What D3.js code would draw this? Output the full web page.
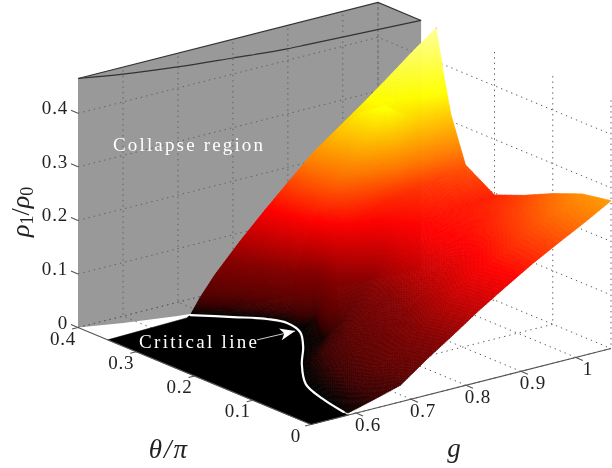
<!DOCTYPE html>
<html>
<head>
<meta charset="utf-8">
<script src="https://cdn.jsdelivr.net/npm/d3@7"></script>
<style>
  html, body { margin: 0; padding: 0; background: #fff; }
  svg { display: block; filter: blur(0.35px); }
  text { font-family: "Liberation Serif", serif; fill: #222; }
</style>
</head>
<body>
<div id="chart"></div>
<script>
const gTicks = [0.6, 0.7, 0.8, 0.9, 1];
const thetaTicks = [0, 0.1, 0.2, 0.3, 0.4];
const rhoTicks = [0, 0.1, 0.2, 0.3, 0.4];
const gRange = [0.518, 1.064];
const thetaRange = [0, 0.4];
const rhoRange = [0, 0.465];

// collapse boundary
const collapseG = [0.518, 0.581, 0.662, 0.749, 0.835, 0.867, 1.064];
const collapseTheta = [0.4, 0.382, 0.365, 0.352, 0.34, 0.338, 0.326];

// critical line on the floor
const criticalG = [0.679, 0.722, 0.755, 0.767, 0.757, 0.72, 0.672, 0.622, 0.601, 0.589];
const criticalTheta = [0.359, 0.326, 0.299, 0.276, 0.244, 0.204, 0.161, 0.107, 0.058, 0.011];

// black floor outline
const floorG = [0.518, 0.518, 0.667, 0.679, 0.722, 0.767, 0.76, 0.715, 0.66, 0.618, 0.598, 0.585];
const floorTheta = [0, 0.349, 0.354, 0.359, 0.326, 0.276, 0.25, 0.2, 0.15, 0.1, 0.05, 0];

// surface rows, front to back. each row runs from the critical line to the g edge
const rowStartG = [0.585, 0.598, 0.618, 0.66, 0.715, 0.76, 0.767, 0.722, 0.679];
const rowStartTheta = [0, 0.05, 0.1, 0.15, 0.2, 0.25, 0.276, 0.326, 0.359];
const rowEndTheta = [0, 0.05, 0.1, 0.15, 0.2, 0.25, 0.275, 0.288, 0.3];
const colFrac = [0, 0.04, 0.1, 0.2, 0.3, 0.4, 0.5, 0.6, 0.7, 0.8, 0.9, 1];
const rho = [
  [0.004, 0.009, 0.017, 0.031, 0.067, 0.1, 0.134, 0.165, 0.195, 0.222, 0.248, 0.276],
  [0, 0.006, 0.02, 0.045, 0.07, 0.103, 0.137, 0.17, 0.196, 0.22, 0.245, 0.266],
  [0, 0.004, 0.018, 0.04, 0.06, 0.09, 0.125, 0.155, 0.18, 0.205, 0.225, 0.244],
  [0, 0.006, 0.02, 0.04, 0.065, 0.09, 0.13, 0.168, 0.18, 0.19, 0.205, 0.218],
  [0, 0.002, 0.006, 0.03, 0.07, 0.115, 0.16, 0.178, 0.185, 0.19, 0.192, 0.196],
  [0, 0.002, 0.01, 0.15, 0.19, 0.195, 0.195, 0.2, 0.205, 0.21, 0.22, 0.23],
  [0, 0.06, 0.13, 0.2, 0.235, 0.265, 0.31, 0.36, 0.335, 0.315, 0.31, 0.313],
  [0, 0.05, 0.1, 0.16, 0.21, 0.25, 0.295, 0.335, 0.35, 0.355, 0.365, 0.385],
  [0, 0.03, 0.068, 0.122, 0.172, 0.22, 0.267, 0.305, 0.343, 0.383, 0.424, 0.463]
];

const width = 612, height = 468;
const originX = 311, originY = 424.5;

const gX = d3.scaleLinear().domain(gRange).range([0, 300]);
const gY = d3.scaleLinear().domain(gRange).range([0, -76]);
const thetaX = d3.scaleLinear().domain(thetaRange).range([0, -233]);
const thetaY = d3.scaleLinear().domain(thetaRange).range([0, -97]);
const rhoY = d3.scaleLinear().domain(rhoRange).range([0, -249]);

function proj(g, t, z) {
  return [originX + gX(g) + thetaX(t), originY + gY(g) + thetaY(t) + rhoY(z)];
}

// hot colormap, brightened a bit at the dark end like the picture
const color = d3.scaleLinear()
  .domain([0, 0.006, 0.02, 0.04, 0.09, 0.176, 0.25, 0.35, 0.42, 0.465])
  .range(["#000000", "#120000", "#3c0000", "#5a0000", "#850000", "#ff0000", "#ff7800", "#ffff00", "#ffff60", "#ffffa0"])
  .clamp(true);

const svg = d3.select("#chart").append("svg")
  .attr("width", width)
  .attr("height", height);

const line = d3.line();
const gMax = gRange[1], gMin = gRange[0], tBack = thetaRange[1], zTop = rhoRange[1];

// grey collapse region: back wall plus the curved sheet
const greyPts = [proj(gMin, tBack, 0)]
  .concat(collapseG.map((g, i) => proj(g, collapseTheta[i], 0)))
  .concat([proj(gMax, collapseTheta[6], zTop), proj(gMax, tBack, zTop), proj(gMin, tBack, zTop)]);

svg.append("path")
  .attr("d", line(greyPts) + "Z")
  .attr("fill", "#999999");

// dotted grid
const grid = svg.append("g")
  .attr("fill", "none")
  .attr("stroke", "#5f5f5f")
  .attr("stroke-width", 1)
  .attr("stroke-dasharray", "1.4,4");

rhoTicks.forEach(z => {
  grid.append("path").attr("d", line([proj(gMin, tBack, z), proj(gMax, tBack, z), proj(gMax, 0, z)]));
});
gTicks.forEach(g => {
  grid.append("path").attr("d", line([proj(g, 0, 0), proj(g, tBack, 0), proj(g, tBack, zTop)]));
});
thetaTicks.forEach(t => {
  grid.append("path").attr("d", line([proj(gMin, t, 0), proj(gMax, t, 0), proj(gMax, t, zTop)]));
});
grid.append("path").attr("d", line([proj(gMax, tBack, 0), proj(gMax, tBack, zTop)]));

// dark outline of the top of the collapse region
const edges = svg.append("g")
  .attr("fill", "none")
  .attr("stroke", "#333")
  .attr("stroke-width", 1.2);

edges.append("path").attr("d", line([proj(gMin, tBack, zTop), proj(gMax, tBack, zTop), proj(gMax, collapseTheta[6], zTop)]));
edges.append("path").attr("d", d3.line().curve(d3.curveMonotoneX)(collapseG.map((g, i) => proj(g, collapseTheta[i], zTop))));

// floor under the critical line
svg.append("path")
  .attr("d", line(floorG.map((g, i) => proj(g, floorTheta[i], 0))) + "Z")
  .attr("fill", "#000")
  .attr("stroke", "#000")
  .attr("stroke-width", 0.5);

// surface: split every mesh cell into small quads, back to front
const cells = [];

function vertex(j, i) {
  const f = colFrac[i];
  return {
    g: rowStartG[j] + f * (gMax - rowStartG[j]),
    t: rowStartTheta[j] + f * (rowEndTheta[j] - rowStartTheta[j]),
    z: rho[j][i]
  };
}

function mix(a, b, c, d, u, v) {
  const res = {};
  ["g", "t", "z"].forEach(k => {
    res[k] = (1 - v) * ((1 - u) * a[k] + u * b[k]) + v * ((1 - u) * c[k] + u * d[k]);
  });
  return res;
}

function pixelDist(p, q) {
  const a = proj(p.g, p.t, p.z), b = proj(q.g, q.t, q.z);
  return Math.hypot(a[0] - b[0], a[1] - b[1]);
}

for (let j = rho.length - 2; j >= 0; j--) {
  for (let i = colFrac.length - 2; i >= 0; i--) {
    const a = vertex(j, i), b = vertex(j, i + 1), c = vertex(j + 1, i), d = vertex(j + 1, i + 1);
    const nu = Math.ceil(Math.max(pixelDist(a, b), pixelDist(c, d)) / 2.5) || 1;
    const nv = Math.ceil(Math.max(pixelDist(a, c), pixelDist(b, d)) / 2.5) || 1;
    for (let sv = nv - 1; sv >= 0; sv--) {
      for (let su = nu - 1; su >= 0; su--) {
        const u0 = su / nu, u1 = (su + 1) / nu, v0 = sv / nv, v1 = (sv + 1) / nv;
        cells.push([mix(a, b, c, d, u0, v0), mix(a, b, c, d, u1, v0), mix(a, b, c, d, u1, v1), mix(a, b, c, d, u0, v1)]);
      }
    }
  }
}

svg.append("g")
  .selectAll("path")
  .data(cells)
  .enter()
  .append("path")
  .attr("d", q => line(q.map(p => proj(p.g, p.t, p.z))) + "Z")
  .attr("fill", q => color(d3.mean(q, p => p.z)))
  .attr("stroke", q => color(d3.mean(q, p => p.z)))
  .attr("stroke-width", 0.7);

// critical line and its label
svg.append("path")
  .attr("d", d3.line().curve(d3.curveCatmullRom)(criticalG.map((g, i) => proj(g, criticalTheta[i], 0))))
  .attr("fill", "none")
  .attr("stroke", "#fff")
  .attr("stroke-width", 2.2)
  .attr("stroke-linecap", "round");

const arrowFrom = proj(0.687, 0.252, 0), arrowTo = proj(0.754, 0.25, 0);
svg.append("path")
  .attr("d", line([arrowFrom, arrowTo]))
  .attr("stroke", "#fff")
  .attr("stroke-width", 0.8);
svg.append("path")
  .attr("transform", `translate(${arrowTo[0]},${arrowTo[1]}) rotate(-13)`)
  .attr("d", "M0,0L-15,-6L-11,0L-15,6Z")
  .attr("fill", "#fff");

svg.append("text")
  .attr("x", 139).attr("y", 348)
  .attr("textLength", 118)
  .style("font-size", "19px")
  .style("fill", "#fff")
  .text("Critical line");

svg.append("text")
  .attr("x", 113).attr("y", 151)
  .attr("textLength", 150)
  .style("font-size", "19px")
  .style("fill", "#fff")
  .text("Collapse region");

// axes
const axes = svg.append("g")
  .attr("fill", "none")
  .attr("stroke", "#555")
  .attr("stroke-width", 1.1);

axes.append("path").attr("d", line([proj(gMin, tBack, 0), proj(gMin, 0, 0), proj(gMax, 0, 0)]));

gTicks.forEach(g => {
  const p = proj(g, 0, 0);
  axes.append("path").attr("d", line([p, [p[0] + 7, p[1] + 3]]));
  svg.append("text")
    .attr("x", p[0] + 12).attr("y", p[1] + 18)
    .attr("text-anchor", "middle")
    .style("font-size", "19px")
    .style("letter-spacing", "0.8px")
    .text(g);
});

thetaTicks.forEach(t => {
  const p = proj(gMin, t, 0);
  axes.append("path").attr("d", line([p, [p[0] - 6, p[1] + 1.5]]));
  svg.append("text")
    .attr("x", p[0] - 15).attr("y", p[1] + 17)
    .attr("text-anchor", "middle")
    .style("font-size", "19px")
    .style("letter-spacing", "0.8px")
    .text(t);
});

rhoTicks.forEach(z => {
  const p = proj(gMin, tBack, z);
  axes.append("path").attr("d", line([p, [p[0] - 7, p[1] - 3]]));
  svg.append("text")
    .attr("x", p[0] - 10).attr("y", p[1] + 1)
    .attr("text-anchor", "end")
    .style("font-size", "19px")
    .style("letter-spacing", "0.8px")
    .text(z);
});

// axis titles
const yTitle = svg.append("text")
  .attr("transform", "translate(29,237) rotate(-90)")
  .style("font-size", "26px")
  .style("font-style", "italic");
yTitle.append("tspan").text("ρ");
yTitle.append("tspan").attr("dy", 4).style("font-size", "18px").style("font-style", "normal").text("1");
yTitle.append("tspan").attr("dy", -4).style("font-style", "normal").text("/");
yTitle.append("tspan").text("ρ");
yTitle.append("tspan").attr("dy", 4).style("font-size", "18px").style("font-style", "normal").text("0");

svg.append("text")
  .attr("x", 169).attr("y", 458)
  .attr("text-anchor", "middle")
  .style("font-size", "27px")
  .style("font-style", "italic")
  .style("letter-spacing", "2px")
  .text("θ/π");

svg.append("text")
  .attr("x", 454).attr("y", 457)
  .attr("text-anchor", "middle")
  .style("font-size", "27px")
  .style("font-style", "italic")
  .text("g");
</script>
</body>
</html>
